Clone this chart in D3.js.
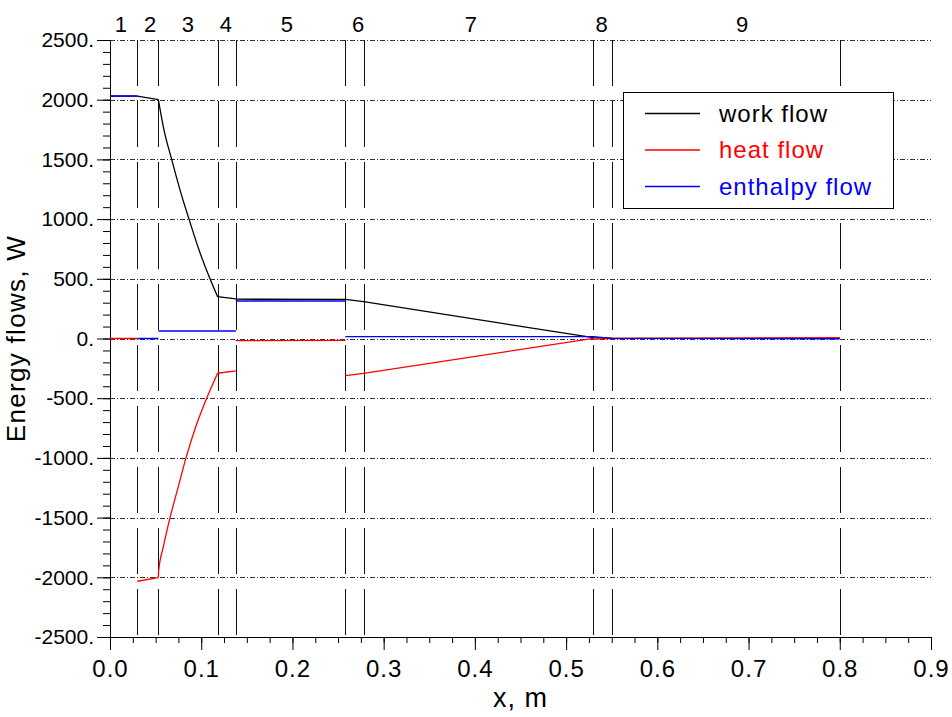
<!DOCTYPE html>
<html>
<head>
<meta charset="utf-8">
<script src="https://cdn.jsdelivr.net/npm/d3@7"></script>
<style>
  body { margin: 0; background: #fff; }
  text { font-family: "Liberation Sans", Arial, sans-serif; }
</style>
</head>
<body>
<script>
// section boundaries along the channel (m) and their labels
const regionBounds = [0.03, 0.053, 0.118, 0.138, 0.258, 0.278, 0.53, 0.55, 0.80];
const regionLabels = ["1", "2", "3", "4", "5", "6", "7", "8", "9"];
const regionLabelX = [0.012, 0.044, 0.0855, 0.127, 0.194, 0.272, 0.3955, 0.539, 0.693];

// tick values
const xTicks = [0, 0.1, 0.2, 0.3, 0.4, 0.5, 0.6, 0.7, 0.8, 0.9];
const yTicks = [-2500, -2000, -1500, -1000, -500, 0, 500, 1000, 1500, 2000, 2500];

// series, null = break (corner or jump between sections)
const workFlow = [
  [0, 2030], [0.03, 2030], null,
  [0.03, 2030], [0.053, 2000], null,
  [0.053, 2000], [0.0592, 1746], [0.0676, 1500], [0.0768, 1243], [0.0866, 1000], [0.0976, 741], [0.1096, 500], [0.118, 350], null,
  [0.118, 350], [0.138, 331], null,
  [0.138, 329], [0.258, 327], null,
  [0.258, 327], [0.278, 308], null,
  [0.278, 308], [0.53, 7], null,
  [0.53, 7], [0.55, 2], null,
  [0.55, 2], [0.80, 1]
];
const heatFlow = [
  [0, 0], [0.03, 0], null,
  [0.03, -2033], [0.053, -2002], null,
  [0.053, -2002], [0.0533, -1950], [0.0585, -1744], [0.0658, -1500], [0.0749, -1241], [0.0833, -1000], [0.094, -739], [0.106, -500], [0.118, -291], null,
  [0.118, -291], [0.138, -272], null,
  [0.138, -18], [0.258, -16], null,
  [0.258, -311], [0.278, -292], null,
  [0.278, -292], [0.53, 1], null,
  [0.53, -6], [0.55, 0], null,
  [0.55, 0], [0.80, 7]
];
const enthalpyFlow = [
  [0, 2031], [0.03, 2031], null,
  [0.03, 0], [0.053, 0], null,
  [0.053, 63], [0.138, 63], null,
  [0.138, 314], [0.258, 314], null,
  [0.258, 16], [0.53, 15], null,
  [0.53, 15], [0.55, 1], null,
  [0.55, 1], [0.80, -2]
];

const legendItems = [
  {name: "work flow", color: "#000000", data: workFlow},
  {name: "heat flow", color: "#ff0000", data: heatFlow},
  {name: "enthalpy flow", color: "#0000ff", data: enthalpyFlow}
];

const margin = {top: 40, right: 21, bottom: 80, left: 110};
const width = 952 - margin.left - margin.right;
const height = 717 - margin.top - margin.bottom;

var xScale = d3.scaleLinear().domain([0, 0.9]).range([0, width]);
var yScale = d3.scaleLinear().domain([-2500, 2500]).range([height, 0]);

var svg = d3.select("body").append("svg")
    .attr("width", 952)
    .attr("height", 717)
  .append("g")
    .attr("transform", "translate(" + margin.left + "," + margin.top + ")");

// horizontal dash-dot grid
svg.selectAll(".grid")
    .data(yTicks.filter(d => d > -2500))
  .enter().append("line")
    .attr("class", "grid")
    .attr("x1", 0)
    .attr("x2", width)
    .attr("y1", d => Math.round(yScale(d)) + 0.5)
    .attr("y2", d => Math.round(yScale(d)) + 0.5)
    .attr("stroke", "#333")
    .attr("stroke-width", 1)
    .attr("stroke-dasharray", "5,2,1,2");

// section boundaries
svg.selectAll(".bound")
    .data(regionBounds)
  .enter().append("line")
    .attr("class", "bound")
    .attr("x1", d => Math.round(xScale(d)) + 0.5)
    .attr("x2", d => Math.round(xScale(d)) + 0.5)
    .attr("y1", 0)
    .attr("y2", height)
    .attr("stroke", "#111")
    .attr("stroke-width", 1)
    .attr("stroke-dasharray", "46,15");

// section numbers above the plot
svg.selectAll(".rlabel")
    .data(regionLabels)
  .enter().append("text")
    .attr("class", "rlabel")
    .attr("x", (d, i) => xScale(regionLabelX[i]))
    .attr("y", -8)
    .attr("text-anchor", "middle")
    .style("font-size", "22px")
    .text(d => d);

// axes
var yMinor = d3.range(-2500, 2501, 100);
var xMinor = d3.range(0, 0.9001, 0.025);

svg.append("g")
    .attr("class", "y minor")
    .call(d3.axisLeft(yScale).tickValues(yMinor).tickSize(7).tickSizeOuter(0).tickFormat(""))
    .call(g => g.select(".domain").remove());

svg.append("g")
    .attr("class", "y axis")
    .call(d3.axisLeft(yScale).tickValues(yTicks).tickSize(13).tickSizeOuter(0).tickPadding(3)
        .tickFormat(d => d + "."))
    .call(g => g.selectAll("text").style("font-size", "21px").attr("fill", "#000"));

svg.append("g")
    .attr("class", "x minor")
    .attr("transform", "translate(0," + height + ")")
    .call(d3.axisBottom(xScale).tickValues(xMinor).tickSize(6).tickSizeOuter(0).tickFormat(""))
    .call(g => g.select(".domain").remove());

svg.append("g")
    .attr("class", "x axis")
    .attr("transform", "translate(0," + height + ")")
    .call(d3.axisBottom(xScale).tickValues(xTicks).tickSize(13).tickSizeOuter(0).tickPadding(10)
        .tickFormat(d3.format(".1f")))
    .call(g => g.selectAll("text").style("font-size", "24px").style("letter-spacing", "1px").attr("fill", "#000"));

svg.selectAll(".axis path, .axis line, .minor line").attr("stroke", "#000");

// axis titles
svg.append("text")
    .attr("x", width / 2)
    .attr("y", height + 70)
    .attr("text-anchor", "middle")
    .style("font-size", "27px")
    .style("letter-spacing", "1px")
    .text("x, m");

svg.append("text")
    .attr("transform", "translate(" + (-85) + "," + (height / 2) + ") rotate(-90)")
    .attr("text-anchor", "middle")
    .style("font-size", "26px")
    .style("letter-spacing", "1.3px")
    .text("Energy flows, W");

// series
var line = d3.line()
    .defined(d => d !== null)
    .x(d => xScale(d[0]))
    .y(d => yScale(d[1]))
    .curve(d3.curveMonotoneX);

svg.selectAll(".series")
    .data(legendItems)
  .enter().append("path")
    .attr("class", "series")
    .attr("d", d => line(d.data))
    .attr("fill", "none")
    .attr("stroke", d => d.color)
    .attr("stroke-width", 1.3);

// legend
var legend = svg.append("g")
    .attr("transform", "translate(" + (623 - margin.left) + "," + (92 - margin.top) + ")");

legend.append("rect")
    .attr("x", 0.5)
    .attr("y", 0.5)
    .attr("width", 270)
    .attr("height", 116)
    .attr("fill", "#fff")
    .attr("stroke", "#000")
    .attr("stroke-width", 1);

var rows = legend.selectAll(".lrow")
    .data(legendItems)
  .enter().append("g")
    .attr("class", "lrow")
    .attr("transform", (d, i) => "translate(0," + (21.5 + i * 36.5) + ")");

rows.append("line")
    .attr("x1", 22)
    .attr("x2", 77)
    .attr("stroke", d => d.color)
    .attr("stroke-width", 1.3);

rows.append("text")
    .attr("x", 96)
    .attr("dy", "0.35em")
    .style("font-size", "24px")
    .style("letter-spacing", "1px")
    .attr("fill", d => d.color)
    .text(d => d.name);
</script>
</body>
</html>
